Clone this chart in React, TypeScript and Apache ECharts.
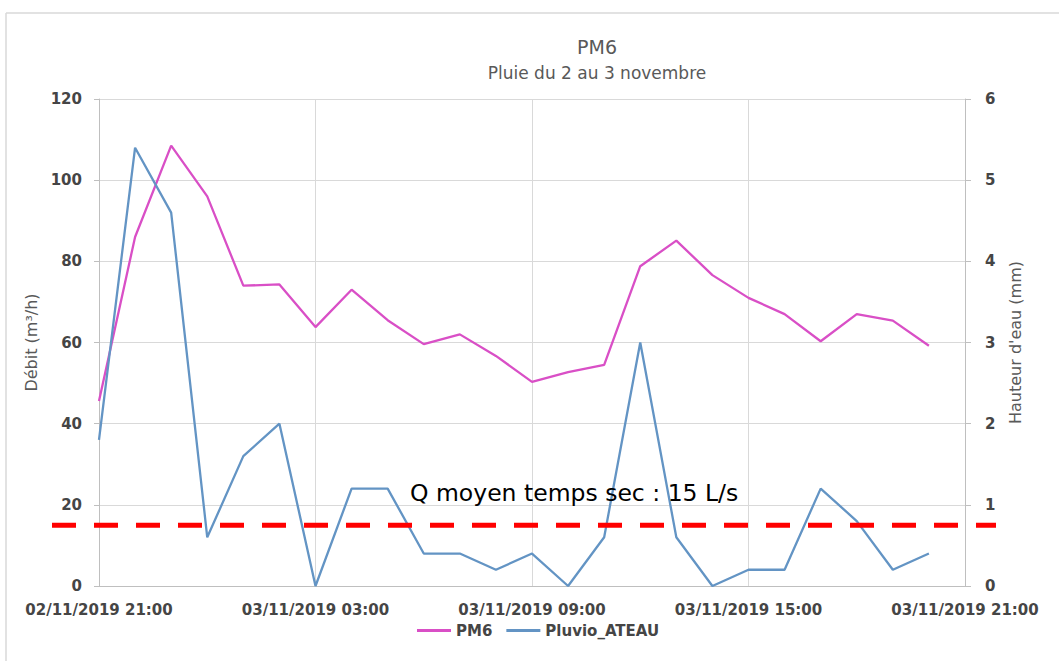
import React, { useEffect, useRef } from "react";
import * as echarts from "echarts";

const categories = [
  "02/11/2019 21:00", "03/11/2019 22:00", "03/11/2019 23:00",
  "03/11/2019 00:00", "03/11/2019 01:00", "03/11/2019 02:00",
  "03/11/2019 03:00", "03/11/2019 04:00", "03/11/2019 05:00",
  "03/11/2019 06:00", "03/11/2019 07:00", "03/11/2019 08:00",
  "03/11/2019 09:00", "03/11/2019 10:00", "03/11/2019 11:00",
  "03/11/2019 12:00", "03/11/2019 13:00", "03/11/2019 14:00",
  "03/11/2019 15:00", "03/11/2019 16:00", "03/11/2019 17:00",
  "03/11/2019 18:00", "03/11/2019 19:00", "03/11/2019 20:00",
  "03/11/2019 21:00",
];

const pm6 = [
  45.6, 86, 108.5, 96, 74, 74.3, 63.8, 73, 65.5, 59.6, 62, 56.7,
  50.3, 52.7, 54.5, 78.8, 85.1, 76.6, 71, 67, 60.3, 67, 65.4, 59.2,
];

const pluvio = [
  1.8, 5.4, 4.6, 0.6, 1.6, 2.0, 0, 1.2, 1.2, 0.4, 0.4, 0.2,
  0.4, 0, 0.6, 3.0, 0.6, 0, 0.2, 0.2, 1.2, 0.8, 0.2, 0.4,
];

const qMoyen = 15;
const qLabel = "Q moyen temps sec : 15 L/s";

export default function App() {
  const ref = useRef<HTMLDivElement>(null);

  useEffect(() => {
    if (!ref.current) return;
    const chart = echarts.init(ref.current, null, { renderer: "svg" });
    const tickFont = {
      fontFamily: "DejaVu Sans",
      fontWeight: "bold" as const,
      fontSize: 15,
      color: "#454545",
    };
    const nameFont = {
      fontFamily: "DejaVu Sans",
      fontSize: 16,
      color: "#595959",
    };
    chart.setOption({
      animation: false,
      backgroundColor: "#ffffff",
      title: {
        text: "PM6",
        subtext: "Pluie du 2 au 3 novembre",
        left: 592,
        top: 32,
        textAlign: "center",
        itemGap: 8,
        textStyle: {
          fontFamily: "DejaVu Sans",
          fontSize: 19,
          fontWeight: "normal",
          color: "#595959",
        },
        subtextStyle: {
          fontFamily: "DejaVu Sans",
          fontSize: 17,
          color: "#595959",
        },
      },
      legend: {
        bottom: 18,
        left: 412,
        itemWidth: 34,
        itemHeight: 3,
        itemGap: 14,
        icon: "rect",
        textStyle: {
          fontFamily: "DejaVu Sans",
          fontWeight: "bold",
          fontSize: 15,
          color: "#454545",
        },
        data: ["PM6", "Pluvio_ATEAU"],
      },
      grid: { left: 99, right: 94, top: 99, bottom: 75 },
      xAxis: {
        type: "category",
        data: categories,
        boundaryGap: false,
        axisLine: { lineStyle: { color: "#bfbfbf", width: 1 } },
        axisTick: { show: false },
        axisLabel: { ...tickFont, interval: 5, margin: 16 },
        splitLine: {
          show: true,
          interval: 5,
          lineStyle: { color: "#d9d9d9", width: 1 },
        },
      },
      yAxis: [
        {
          type: "value",
          min: 0,
          max: 120,
          interval: 20,
          name: "Débit (m³/h)",
          nameLocation: "middle",
          nameGap: 57,
          nameTextStyle: nameFont,
          axisLine: { show: true, lineStyle: { color: "#bfbfbf" } },
          axisTick: { show: true, length: 5, lineStyle: { color: "#bfbfbf" } },
          axisLabel: { ...tickFont, margin: 17 },
          splitLine: { lineStyle: { color: "#d9d9d9", width: 1 } },
        },
        {
          type: "value",
          min: 0,
          max: 6,
          interval: 1,
          name: "Hauteur d'eau (mm)",
          nameLocation: "middle",
          nameGap: 42,
          nameTextStyle: nameFont,
          axisLine: { show: true, lineStyle: { color: "#bfbfbf" } },
          axisTick: { show: true, length: 6, lineStyle: { color: "#bfbfbf" } },
          axisLabel: { ...tickFont, margin: 20 },
          splitLine: { show: false },
        },
      ],
      series: [
        {
          name: "PM6",
          type: "line",
          yAxisIndex: 0,
          data: pm6,
          showSymbol: false,
          symbol: "none",
          lineStyle: { color: "#d94fc6", width: 2.3 },
          itemStyle: { color: "#d94fc6" },
        },
        {
          name: "Pluvio_ATEAU",
          type: "line",
          yAxisIndex: 1,
          data: pluvio,
          showSymbol: false,
          symbol: "none",
          lineStyle: { color: "#6394c4", width: 2.3 },
          itemStyle: { color: "#6394c4" },
        },
      ],
    });

    const yPix = chart.convertToPixel({ yAxisIndex: 0 }, qMoyen) as number;
    chart.setOption({
      graphic: [
        {
          type: "line",
          silent: true,
          shape: { x1: 6, y1: 13, x2: 1059, y2: 13 },
          style: { stroke: "#d9d9d9", lineWidth: 1.5 },
        },
        {
          type: "line",
          silent: true,
          shape: { x1: 6, y1: 13, x2: 6, y2: 661 },
          style: { stroke: "#d9d9d9", lineWidth: 1.5 },
        },
        {
          type: "line",
          silent: true,
          z: 100,
          shape: { x1: 52, y1: yPix, x2: 996, y2: yPix },
          style: { stroke: "#ff0000", lineWidth: 5, lineDash: [24, 18] },
        },
        {
          type: "text",
          silent: true,
          z: 100,
          x: 410,
          y: yPix - 32,
          style: {
            text: qLabel,
            fontFamily: "DejaVu Sans",
            fontSize: 23.5,
            fill: "#000000",
            textVerticalAlign: "middle",
          },
        },
      ],
    });

    return () => chart.dispose();
  }, []);

  return (
    <div
      ref={ref}
      style={{ position: "fixed", left: 0, top: 0, width: 1059, height: 661 }}
    />
  );
}
